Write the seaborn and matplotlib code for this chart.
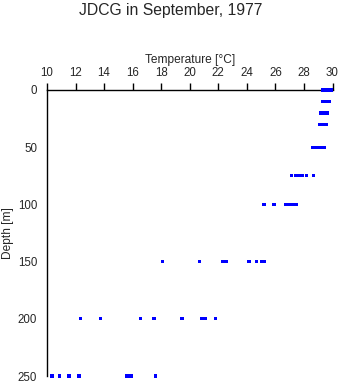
import matplotlib
matplotlib.use("Agg")
import matplotlib.pyplot as plt
import seaborn as sns
import pandas as pd

title = "JDCG in September, 1977"
x_label = "Temperature [°C]"
y_label = "Depth [m]"
x_ticks = [10, 12, 14, 16, 18, 20, 22, 24, 26, 28, 30]
y_ticks = [0, 50, 100, 150, 200, 250]

temps_0 = [29.3, 29.4, 29.5, 29.6, 29.7, 29.8, 29.9, 29.95]
temps_10 = [29.3, 29.4, 29.5, 29.6, 29.7, 29.75]
temps_20 = [29.2, 29.3, 29.4, 29.5, 29.6, 29.65]
temps_30 = [29.1, 29.2, 29.3, 29.4, 29.5, 29.55]
temps_50 = [28.6, 28.7, 28.8, 28.9, 29.0, 29.1, 29.2, 29.3, 29.4]
temps_75 = [27.15, 27.45, 27.7, 27.9, 28.2, 28.65]
temps_100 = [25.2, 25.9, 26.7, 26.8, 26.9, 27.0, 27.1, 27.2, 27.3, 27.4, 27.5]
temps_150 = [18.1, 20.7, 22.3, 22.45, 22.6, 24.15, 24.65, 25.05, 25.2]
temps_200 = [12.35, 13.75, 16.55, 17.5, 19.45, 20.85, 20.95, 21.1, 21.8]
temps_250 = [10.35, 10.85, 11.55, 12.25, 15.6, 15.75, 15.9, 17.6]

depths = [0, 10, 20, 30, 50, 75, 100, 150, 200, 250]
temp_rows = [temps_0, temps_10, temps_20, temps_30, temps_50, temps_75,
             temps_100, temps_150, temps_200, temps_250]

rows = []
for d, ts in zip(depths, temp_rows):
    for t in ts:
        rows.append({"temp": t, "depth": d})
df = pd.DataFrame(rows)

sns.set_style("white")
plt.rcParams['font.family'] = ['Liberation Sans', 'DejaVu Sans']

fig = plt.figure(figsize=(3.41, 3.84), dpi=100)
ax = fig.add_axes([47 / 341, 1 - 376 / 384, 285.5 / 341, (376 - 90) / 384])
sns.scatterplot(data=df, x="temp", y="depth", ax=ax, marker="s", s=5.5,
                color="#0000ff", edgecolor="none", linewidth=0, clip_on=False,
                zorder=10)

ax.set_xlim(10, 30)
ax.set_ylim(250, 0)
ax.xaxis.tick_top()
ax.xaxis.set_label_position("top")
ax.set_xticks(x_ticks)
ax.set_yticks(y_ticks)
ax.set_xlabel(x_label, fontsize=8.6, labelpad=3)
ax.set_ylabel(y_label, fontsize=8.6, labelpad=3)
ax.tick_params(axis="both", direction="out", length=5, width=1, labelsize=8.3,
               color="black", pad=2)
ax.tick_params(axis="x", pad=3)
for side in ["bottom", "right"]:
    ax.spines[side].set_visible(False)
for side in ["top", "left"]:
    ax.spines[side].set_color("black")
    ax.spines[side].set_linewidth(1)
ax.grid(False)
fig.text(0.5, 1 - 11 / 384, title, ha="center", va="center", fontsize=11.3)

fig.savefig("out.png", dpi=100)
